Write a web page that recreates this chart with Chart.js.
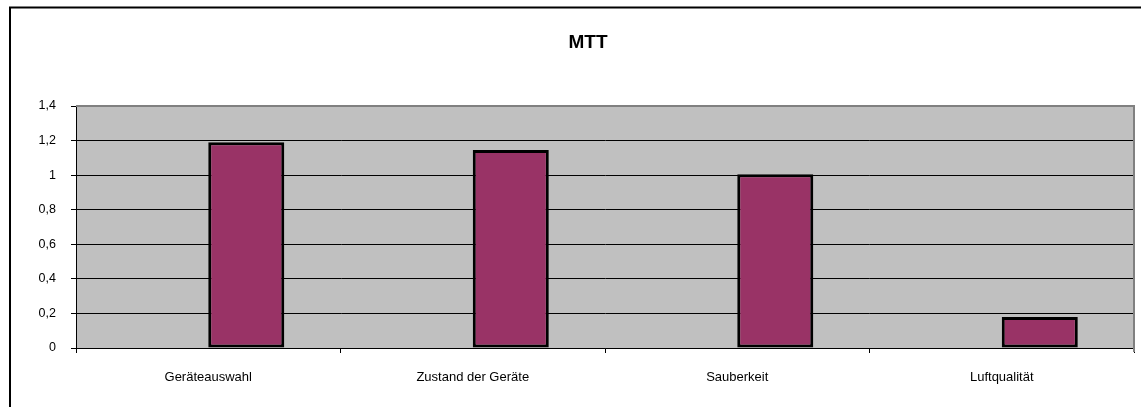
<!DOCTYPE html>
<html lang="de">
<head>
<meta charset="utf-8">
<title>MTT</title>
<script src="https://cdn.jsdelivr.net/npm/chart.js@4/dist/chart.umd.min.js"></script>
<style>
  html, body { margin: 0; padding: 0; background: #fff; overflow: hidden; }
  #wrap { width: 1141px; height: 407px; }
</style>
</head>
<body>
<div id="wrap"><canvas id="mttChart" width="1141" height="407"></canvas></div>
<script>
// Daten
const kategorien = ['Geräteauswahl', 'Zustand der Geräte', 'Sauberkeit', 'Luftqualität'];
const leereReihe = [null, null, null, null];
const werte = [1.19, 1.145, 1.005, 0.18];
const titel = 'MTT';

const schrift = "'Liberation Sans', Arial, sans-serif";

// Hintergrund, Rahmen und Titel
const rahmenPlugin = {
  id: 'rahmen',
  beforeDraw(chart) {
    const ctx = chart.ctx;
    const a = chart.chartArea;
    ctx.save();
    ctx.fillStyle = '#fff';
    ctx.fillRect(0, 0, chart.width, chart.height);
    // aeusserer Rahmen (nur links und oben sichtbar)
    ctx.strokeStyle = '#000';
    ctx.lineWidth = 2;
    ctx.beginPath();
    ctx.moveTo(10, chart.height);
    ctx.lineTo(10, 7.5);
    ctx.lineTo(chart.width, 7.5);
    ctx.stroke();
    ctx.fillStyle = '#c0c0c0';
    ctx.fillRect(a.left, a.top, a.right - a.left, a.bottom - a.top);
    ctx.restore();
  },
  afterDatasetsDraw(chart) {
    const ctx = chart.ctx;
    const a = chart.chartArea;
    ctx.save();
    ctx.strokeStyle = '#808080';
    ctx.lineWidth = 2;
    ctx.beginPath();
    ctx.moveTo(a.left, a.top);
    ctx.lineTo(a.right, a.top);
    ctx.lineTo(a.right, a.bottom + 4);
    ctx.stroke();
    ctx.restore();
  },
  afterDraw(chart) {
    const ctx = chart.ctx;
    ctx.save();
    ctx.fillStyle = '#000';
    ctx.font = 'bold 19px ' + schrift;
    ctx.textAlign = 'center';
    ctx.textBaseline = 'alphabetic';
    ctx.fillText(titel, 588, 48);
    ctx.restore();
  }
};

const ctx = document.getElementById('mttChart').getContext('2d');
const mttChart = new Chart(ctx, {
  type: 'bar',
  data: {
    labels: kategorien,
    datasets: [
      { label: '', data: leereReihe, backgroundColor: '#9999ff' },
      {
        label: 'MTT',
        data: werte,
        backgroundColor: '#993366',
        borderColor: '#000',
        borderWidth: 3,
        borderSkipped: false
      }
    ]
  },
  options: {
    responsive: false,
    animation: false,
    categoryPercentage: 0.575,
    barPercentage: 1,
    layout: { padding: { left: 0, top: 106, right: 7, bottom: 19 } },
    plugins: {
      legend: { display: false },
      tooltip: { enabled: false },
      title: { display: false }
    },
    scales: {
      x: {
        afterFit: s => { s.height = 40; },
        grid: {
          offset: true,
          drawOnChartArea: false,
          drawTicks: true,
          tickLength: 5,
          color: '#000'
        },
        border: { color: '#000', width: 1 },
        ticks: {
          color: '#000',
          padding: 17,
          maxRotation: 0,
          font: { family: schrift, size: 13 }
        }
      },
      y: {
        min: 0,
        max: 1.4,
        afterFit: s => { s.width = 76; },
        grid: {
          color: c => (c.tick && c.tick.value >= 1.39 ? 'rgba(0,0,0,0)' : '#000'),
          tickColor: '#000',
          tickLength: 5,
          lineWidth: 1
        },
        border: { color: '#000', width: 1 },
        ticks: {
          stepSize: 0.2,
          color: '#000',
          padding: 15,
          font: { family: schrift, size: 12.5 },
          callback: v => String(Number(v.toFixed(1))).replace('.', ',')
        }
      }
    }
  },
  plugins: [rahmenPlugin]
});
</script>
</body>
</html>
